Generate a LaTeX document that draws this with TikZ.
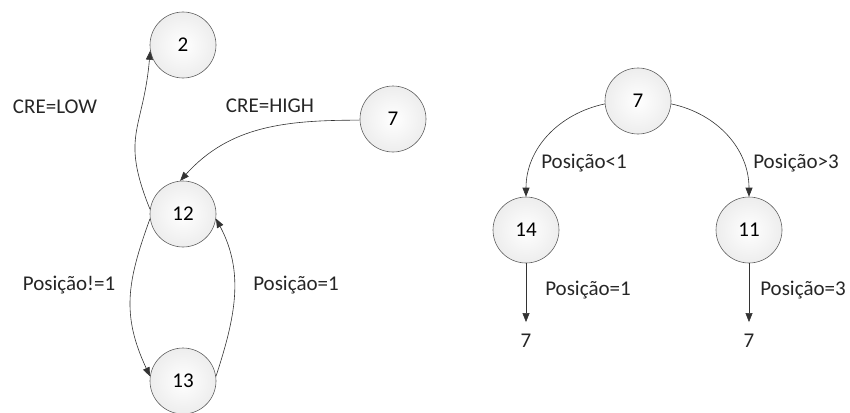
\documentclass[tikz,border=0pt]{standalone}
\usepackage{fontspec}
\setmainfont{Carlito}
\usepackage{tikz}
\usetikzlibrary{arrows.meta, positioning, calc}

\begin{document}
\begin{tikzpicture}[
  x=1pt, y=-1pt,
  state/.style={circle, draw=gray!75!black, line width=0.6pt,
                inner color=white, outer color=gray!14,
                minimum size=66pt, inner sep=0pt,
                font=\fontsize{21}{25}\selectfont},
  lbl/.style={font=\fontsize{21}{25}\selectfont, text=black!85, inner sep=0pt},
  arr/.style={-{Triangle[length=9pt, width=7pt]}, draw=gray!40!black,
              line width=0.6pt},
]
  \useasboundingbox (0,0) rectangle (850,412);

  % left graph
  \node[state] (two)    at (183,45)  {2};
  \node[state] (sevenA) at (393,119) {7};
  \node[state] (twelve) at (183,214) {12};
  \node[state] (thirt)  at (183,381) {13};

  \node[lbl] (low)  at (55,107)  {CRE=LOW};
  \node[lbl] (high) at (270,106) {CRE=HIGH};
  \node[lbl] (ne)   at (69,285)  {Posição!=1};
  \node[lbl] (eq)   at (296,285) {Posição=1};

  \draw[arr] (twelve.172) to[out=112, in=265, looseness=1.3] (two.190);
  \draw[arr] (sevenA.182) to[out=180, in=48] (twelve.95);
  \draw[arr] (twelve.188) to[out=250, in=115, looseness=1.1] (thirt.172);
  \draw[arr] (thirt.8) to[out=72, in=-62] (twelve.352);

  % right tree
  \node[state] (sevenB) at (638,101) {7};
  \node[state] (fourt)  at (526,230) {14};
  \node[state] (eleven) at (749,230) {11};
  \node[lbl] (endL) at (526,341) {7};
  \node[lbl] (endR) at (749,341) {7};

  \node[lbl] (lt)  at (584,163) {Posição<1};
  \node[lbl] (gt)  at (796,163) {Posição>3};
  \node[lbl] (eqA) at (588,290) {Posição=1};
  \node[lbl] (eqB) at (803,290) {Posição=3};

  \draw[arr] (sevenB.185) to[out=192, in=90] (fourt.north);
  \draw[arr] (sevenB.-5) to[out=-12, in=90] (eleven.north);
  \draw[arr, shorten >=12pt] (fourt.south) -- (endL.north);
  \draw[arr, shorten >=12pt] (eleven.south) -- (endR.north);
\end{tikzpicture}
\end{document}
